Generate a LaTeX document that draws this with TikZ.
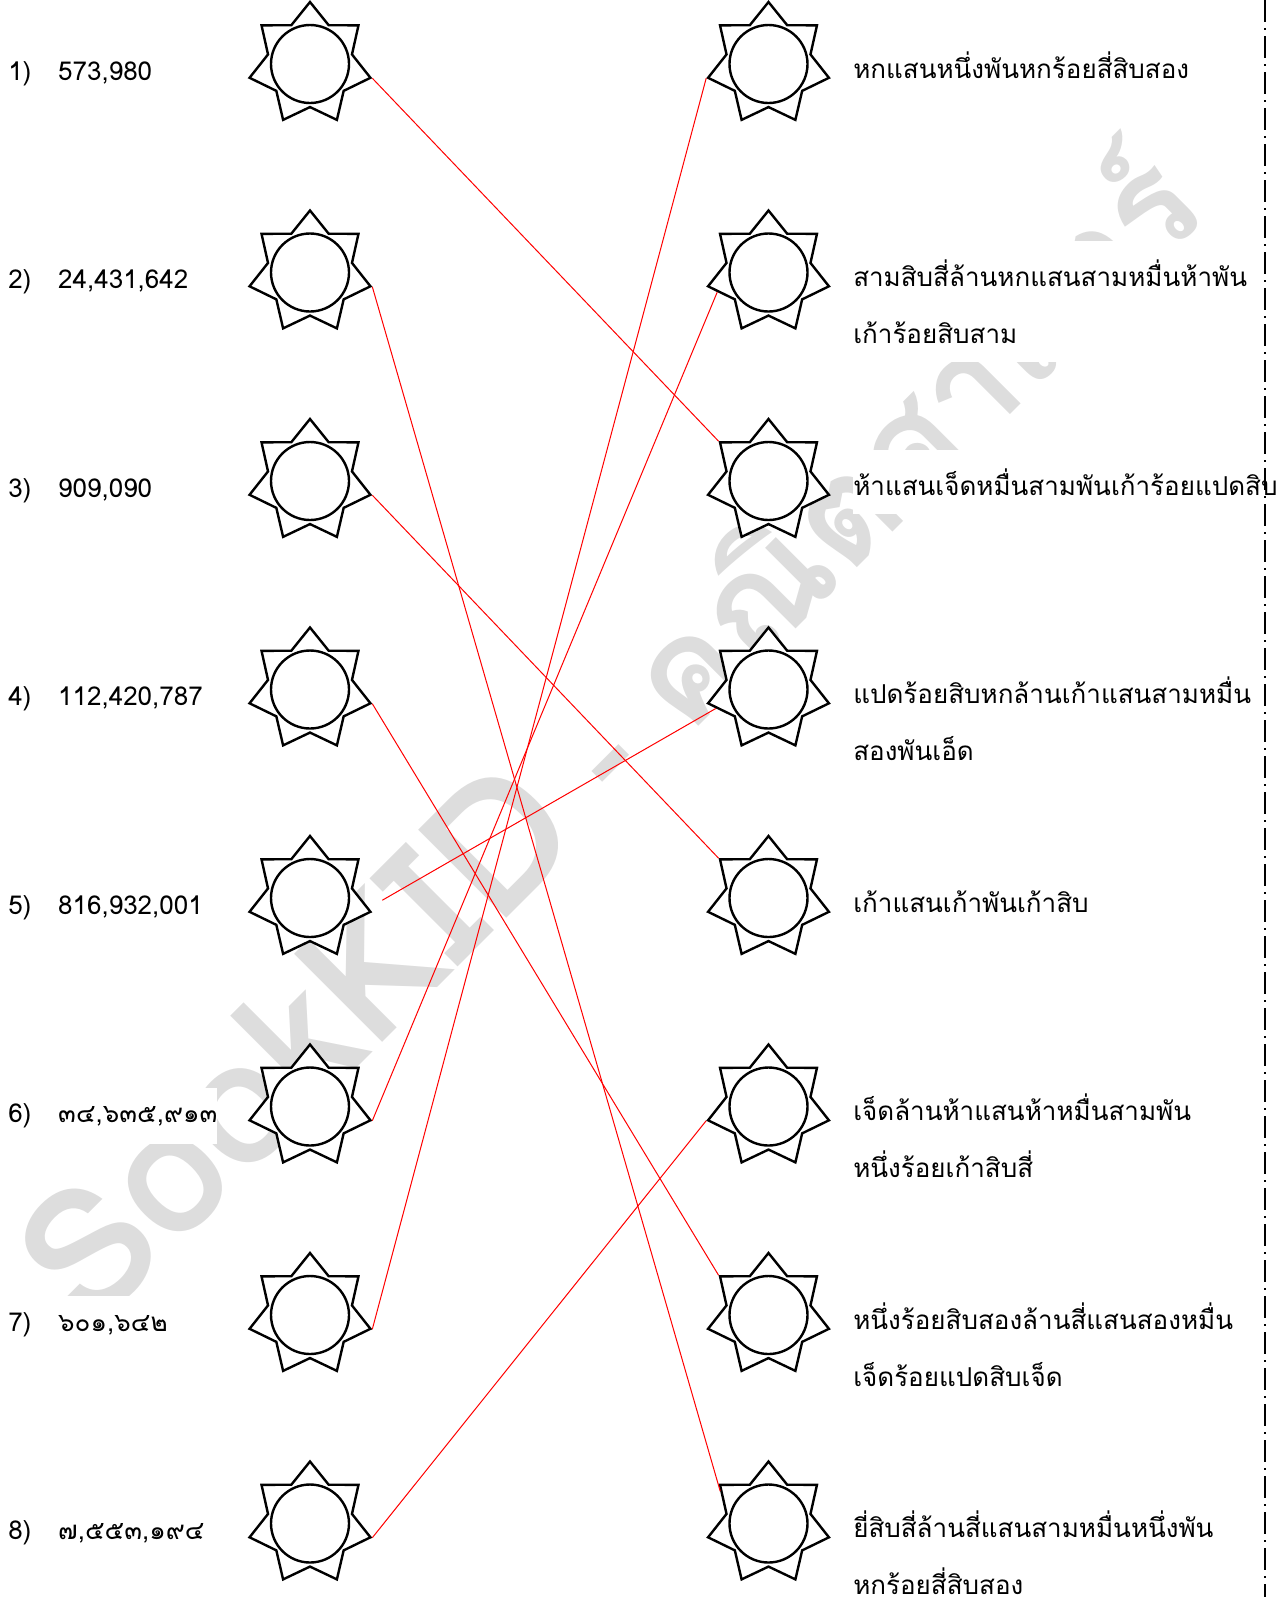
\documentclass[tikz,border=0pt]{standalone}
\usepackage{fontspec}
\newfontfamily\thaifont[Script=Thai]{Loma}
\usetikzlibrary{shapes.geometric,calc}
\definecolor{wmgray}{RGB}{221,221,221}
\tikzset{
  sun/.style={star, star points=7, star point ratio=1.44, minimum size=93pt, inner sep=0pt,
    draw, fill=white, line width=1.8pt, label={[ring]center:{}}},
  ring/.style={circle, draw, line width=1.8pt, minimum size=58.5pt, inner sep=0pt},
  match/.style={red, line width=0.75pt},
  numlab/.style={anchor=base west, fill=white, inner xsep=0pt, inner ysep=12pt, font=\thaifont\fontsize{19.5}{24}\selectfont},
  wordlab/.style={anchor=base west, fill=white, inner xsep=0pt, inner ysep=14pt, align=left, font=\thaifont\fontsize{19.5}{42.75}\selectfont},
  wmark/.style={text=wmgray, inner sep=0pt, font=\thaifont\bfseries\fontsize{106}{106}\selectfont},
  cutline/.style={line width=1.5pt, dash pattern=on 16.5pt off 4.5pt on 1.5pt off 4.5pt},
}
\begin{document}
\begin{tikzpicture}[x=0.75pt, y=-0.75pt]
  \useasboundingbox (0,0) rectangle (1287,1597);
  % watermark
  \node[wmark, rotate=45, anchor=base west] (wm) at (90,1335) {{\fontsize{132}{132}\selectfont SookKID} - คณิตศาสตร์};

  % numbers
  \node[numlab] (n1) at (8,80) {\makebox[37.5pt][l]{1)}573,980};
  \node[numlab] (n2) at (8,288.5) {\makebox[37.5pt][l]{2)}24,431,642};
  \node[numlab] (n3) at (8,497) {\makebox[37.5pt][l]{3)}909,090};
  \node[numlab] (n4) at (8,705.5) {\makebox[37.5pt][l]{4)}112,420,787};
  \node[numlab] (n5) at (8,914) {\makebox[37.5pt][l]{5)}816,932,001};
  \node[numlab] (n6) at (8,1122.5) {\makebox[37.5pt][l]{6)}๓๔,๖๓๕,๙๑๓};
  \node[numlab] (n7) at (8,1331) {\makebox[37.5pt][l]{7)}๖๐๑,๖๔๒};
  \node[numlab] (n8) at (8,1539.5) {\makebox[37.5pt][l]{8)}๗,๕๕๓,๑๙๔};

  % stars
  \node[sun] (L1) at (310,64) {};
  \node[sun] (L2) at (310,272.5) {};
  \node[sun] (L3) at (310,481) {};
  \node[sun] (L4) at (310,689.5) {};
  \node[sun] (L5) at (310,898) {};
  \node[sun] (L6) at (310,1106.5) {};
  \node[sun] (L7) at (310,1315) {};
  \node[sun] (L8) at (310,1523.5) {};

  \node[sun] (R1) at (768.5,64) {};
  \node[sun] (R2) at (768.5,272.5) {};
  \node[sun] (R3) at (768.5,481) {};
  \node[sun] (R4) at (768.5,689.5) {};
  \node[sun] (R5) at (768.5,898) {};
  \node[sun] (R6) at (768.5,1106.5) {};
  \node[sun] (R7) at (768.5,1315) {};
  \node[sun] (R8) at (768.5,1523.5) {};

  % words (two-line ones sit on their last line)
  \node[wordlab] (w1) at (853,78) {หกแสนหนึ่งพันหกร้อยสี่สิบสอง};
  \node[wordlab] (w2) at (853,343.5) {สามสิบสี่ล้านหกแสนสามหมื่นห้าพัน\\เก้าร้อยสิบสาม};
  \node[wordlab] (w3) at (853,495) {ห้าแสนเจ็ดหมื่นสามพันเก้าร้อยแปดสิบ};
  \node[wordlab] (w4) at (853,760.5) {แปดร้อยสิบหกล้านเก้าแสนสามหมื่น\\สองพันเอ็ด};
  \node[wordlab] (w5) at (853,912) {เก้าแสนเก้าพันเก้าสิบ};
  \node[wordlab] (w6) at (853,1177.5) {เจ็ดล้านห้าแสนห้าหมื่นสามพัน\\หนึ่งร้อยเก้าสิบสี่};
  \node[wordlab] (w7) at (853,1386) {หนึ่งร้อยสิบสองล้านสี่แสนสองหมื่น\\เจ็ดร้อยแปดสิบเจ็ด};
  \node[wordlab] (w8) at (853,1594.5) {ยี่สิบสี่ล้านสี่แสนสามหมื่นหนึ่งพัน\\หกร้อยสี่สิบสอง};

  % answers
  \draw[match] (L1.outer point 6) -- (R3.outer point 2);
  \draw[match] (L2.outer point 6) -- ($(R8.outer point 2)!0.25!(R8.inner point 2)$);
  \draw[match] (L3.outer point 6) -- (R5.outer point 2);
  \draw[match] (L4.outer point 6) -- (R7.outer point 2);
  \draw[match] ([xshift=7.5pt,yshift=9pt]L5.outer point 6) -- ($(R4.outer point 3)!0.35!(R4.inner point 3)$);
  \draw[match] (L6.outer point 6) -- ($(R2.outer point 3)!0.4!(R2.inner point 3)$);
  \draw[match] (L7.outer point 6) -- (R1.outer point 3);
  \draw[match] (L8.outer point 6) -- (R6.outer point 3);

  \draw[cutline] (1265,0) -- (1265,1597);
\end{tikzpicture}
\end{document}
